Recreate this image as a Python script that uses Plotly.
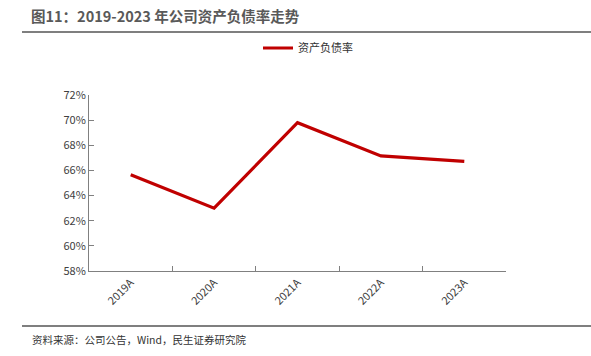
import plotly.graph_objects as go

categories = ["2019A", "2020A", "2021A", "2022A", "2023A"]
debt_ratio = [0.6565, 0.6300, 0.6980, 0.6715, 0.6672]
series_name = "资产负债率"
title_text = "图11：2019-2023 年公司资产负债率走势"
source_text = "资料来源：公司公告，Wind，民生证券研究院"
y_ticks = [0.58, 0.60, 0.62, 0.64, 0.66, 0.68, 0.70, 0.72]

FONT = "Noto Sans CJK SC, Open Sans, sans-serif"

L, R, T, B = 89, 85, 95, 85
PW, PH = 591 - L - R, 356 - T - B


def px(x):
    return (x - L) / PW


def py(y):
    return (356 - B - y) / PH


fig = go.Figure()
fig.add_trace(go.Scatter(
    x=categories, y=debt_ratio, mode="lines", name=series_name,
    line=dict(color="#C00000", width=3.2),
))

fig.update_layout(
    width=591, height=356,
    margin=dict(l=L, r=R, t=T, b=B, autoexpand=False),
    paper_bgcolor="white", plot_bgcolor="white",
    font=dict(family=FONT, size=11, color="#404040"),
    showlegend=True,
    legend=dict(orientation="h", x=px(258), xanchor="left", y=py(48), yanchor="middle",
                font=dict(size=11, color="#333333"), itemwidth=30,
                bgcolor="rgba(0,0,0,0)"),
    xaxis=dict(
        type="category", range=[-0.5, 4.5], tickson="boundaries",
        showline=True, linecolor="#808080", linewidth=1,
        ticks="inside", ticklen=5, tickcolor="#808080",
        tickangle=-45, showgrid=False, zeroline=False,
        tickfont=dict(size=11, color="#404040"),
    ),
    yaxis=dict(
        range=[0.58, 0.72], tickvals=y_ticks, tickformat=".0%",
        showline=True, linecolor="#808080", linewidth=1,
        ticks="inside", ticklen=5, tickcolor="#808080",
        showgrid=False, zeroline=False,
        tickfont=dict(size=11, color="#404040"),
    ),
    shapes=[
        dict(type="line", xref="paper", yref="paper", x0=px(22), x1=px(591),
             y0=py(32), y1=py(32), line=dict(color="#7f7f7f", width=2)),
        dict(type="line", xref="paper", yref="paper", x0=px(22), x1=px(591),
             y0=py(326), y1=py(326), line=dict(color="#7f7f7f", width=2)),
    ],
    annotations=[
        dict(text="<b>" + title_text + "</b>", xref="paper", yref="paper",
             x=px(29), y=py(15), xanchor="left", yanchor="middle",
             showarrow=False, font=dict(size=14.5, color="#595959", family=FONT)),
        dict(text=source_text, xref="paper", yref="paper",
             x=px(30), y=py(339), xanchor="left", yanchor="middle",
             showarrow=False, font=dict(size=10.5, color="#333333", family=FONT)),
    ],
)

fig.write_html(
    "out.html",
    config={"displayModeBar": False},
    post_script="document.body.style.margin='0';document.body.style.overflow='hidden';",
)
